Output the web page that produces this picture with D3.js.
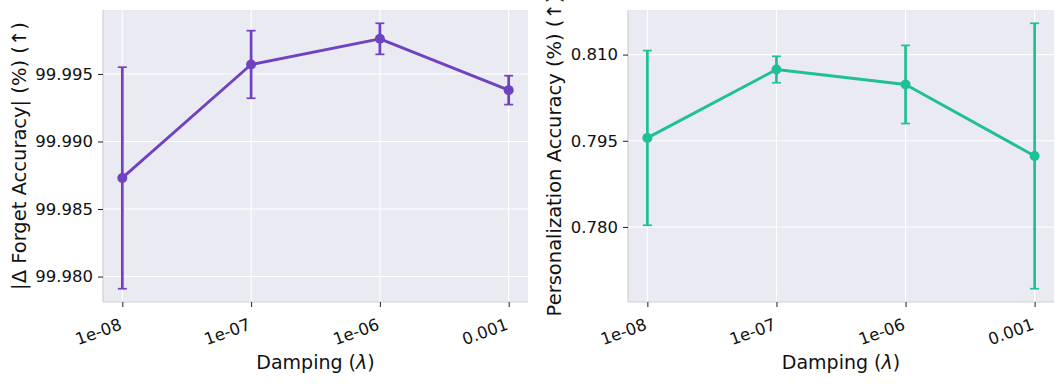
<!DOCTYPE html>
<html>
<head>
<meta charset="utf-8">
<script src="https://cdn.jsdelivr.net/npm/d3@7"></script>
<style>
  html, body { margin: 0; padding: 0; background: #ffffff; }
  svg { display: block; font-family: "DejaVu Sans", sans-serif; }
</style>
</head>
<body>
<svg id="chart" width="1064" height="384"></svg>
<script>
// ---- data ----
const dampingLabels = ["1e-08", "1e-07", "1e-06", "0.001"];
const forgetMean = [99.9873, 99.9957, 99.9976, 99.9938];
const forgetErr  = [0.0082, 0.0025, 0.00115, 0.00107];
const persMean   = [0.7955, 0.8074, 0.8048, 0.79235];
const persErr    = [0.0152, 0.0023, 0.0068, 0.0231];
const forgetTicks = [99.980, 99.985, 99.990, 99.995];
const persTicks   = [0.780, 0.795, 0.810];

const svg = d3.select("#chart");

function panel(opts) {
  const {x0, x1, y0, y1, means, errs, ticks, color, ylabel, ylabelX} = opts;
  const g = svg.append("g");
  const x = d3.scalePoint().domain(dampingLabels).range([x0, x1]).padding(0.15);
  const lo = d3.min(means.map((m, i) => m - errs[i]));
  const hi = d3.max(means.map((m, i) => m + errs[i]));
  const pad = (hi - lo) * 0.05;
  const y = d3.scaleLinear().domain([lo - pad, hi + pad]).range([y1, y0]);

  // background
  g.append("rect").attr("x", x0).attr("y", y0).attr("width", x1 - x0).attr("height", y1 - y0)
    .attr("fill", "#eaeaf2");
  // grid
  g.selectAll(".hg").data(ticks).enter().append("line")
    .attr("x1", x0).attr("x2", x1).attr("y1", d => y(d)).attr("y2", d => y(d))
    .attr("stroke", "#ffffff").attr("stroke-width", 1.1);
  g.selectAll(".vg").data(dampingLabels).enter().append("line")
    .attr("x1", d => x(d)).attr("x2", d => x(d)).attr("y1", y0).attr("y2", y1)
    .attr("stroke", "#ffffff").attr("stroke-width", 1.1);
  // spines
  g.append("line").attr("x1", x0).attr("x2", x0).attr("y1", y0).attr("y2", y1)
    .attr("stroke", "#cfcfd6").attr("stroke-width", 1.2);
  g.append("line").attr("x1", x0).attr("x2", x1).attr("y1", y1).attr("y2", y1)
    .attr("stroke", "#cfcfd6").attr("stroke-width", 1.2);

  // y axis
  const yAxis = d3.axisLeft(y).tickValues(ticks).tickFormat(d3.format(".3f")).tickSize(5).tickPadding(5);
  const ya = g.append("g").attr("transform", `translate(${x0},0)`).call(yAxis);
  ya.select(".domain").remove();
  ya.selectAll(".tick line").attr("stroke", "#222").attr("stroke-width", 1);
  ya.selectAll(".tick text").attr("font-size", 16.5).attr("fill", "#111")
    .attr("font-family", "DejaVu Sans");

  // x axis
  const xAxis = d3.axisBottom(x).tickSize(5).tickFormat(d => d);
  const xa = g.append("g").attr("transform", `translate(0,${y1})`).call(xAxis);
  xa.select(".domain").remove();
  xa.selectAll(".tick line").attr("stroke", "#222").attr("stroke-width", 1);
  xa.selectAll(".tick text").attr("font-size", 16.5).attr("fill", "#111")
    .attr("font-family", "DejaVu Sans")
    .attr("text-anchor", "end")
    .attr("dy", null).attr("y", null)
    .attr("transform", "translate(0,27) rotate(-20)");

  // axis labels
  const xl = g.append("text").attr("x", (x0 + x1) / 2).attr("y", 369).attr("text-anchor", "middle")
    .attr("font-size", 19).attr("fill", "#111");
  xl.append("tspan").text("Damping (");
  xl.append("tspan").attr("font-style", "italic").text("\u03bb");
  xl.append("tspan").text(")");
  g.append("text").attr("transform", `translate(${ylabelX},${(y0 + y1) / 2}) rotate(-90)`)
    .attr("text-anchor", "middle").attr("font-size", 19.5).attr("fill", "#111").text(ylabel);

  // error bars
  const eb = g.selectAll(".eb").data(dampingLabels).enter().append("g");
  eb.append("line").attr("x1", d => x(d)).attr("x2", d => x(d))
    .attr("y1", (d, i) => y(means[i] - errs[i])).attr("y2", (d, i) => y(means[i] + errs[i]))
    .attr("stroke", color).attr("stroke-width", 2.7);
  eb.append("line").attr("x1", d => x(d) - 4.5).attr("x2", d => x(d) + 4.5)
    .attr("y1", (d, i) => y(means[i] + errs[i])).attr("y2", (d, i) => y(means[i] + errs[i]))
    .attr("stroke", color).attr("stroke-width", 1.7);
  eb.append("line").attr("x1", d => x(d) - 4.5).attr("x2", d => x(d) + 4.5)
    .attr("y1", (d, i) => y(means[i] - errs[i])).attr("y2", (d, i) => y(means[i] - errs[i]))
    .attr("stroke", color).attr("stroke-width", 1.7);

  // line
  const line = d3.line().x((d, i) => x(dampingLabels[i])).y(d => y(d));
  g.append("path").datum(means).attr("d", line).attr("fill", "none")
    .attr("stroke", color).attr("stroke-width", 2.9).attr("stroke-linejoin", "round");
  g.selectAll(".pt").data(means).enter().append("circle")
    .attr("cx", (d, i) => x(dampingLabels[i])).attr("cy", d => y(d)).attr("r", 5)
    .attr("fill", color);
}

panel({x0: 103, x1: 528, y0: 10, y1: 302, means: forgetMean, errs: forgetErr,
       ticks: forgetTicks, color: "#6f42c1",
       ylabel: "|\u0394 Forget Accuracy| (%) (\u2191)", ylabelX: 26});
panel({x0: 628, x1: 1054, y0: 10, y1: 302, means: persMean, errs: persErr,
       ticks: persTicks, color: "#20c097",
       ylabel: "Personalization Accuracy (%) (\u2191)", ylabelX: 561});
</script>
</body>
</html>
